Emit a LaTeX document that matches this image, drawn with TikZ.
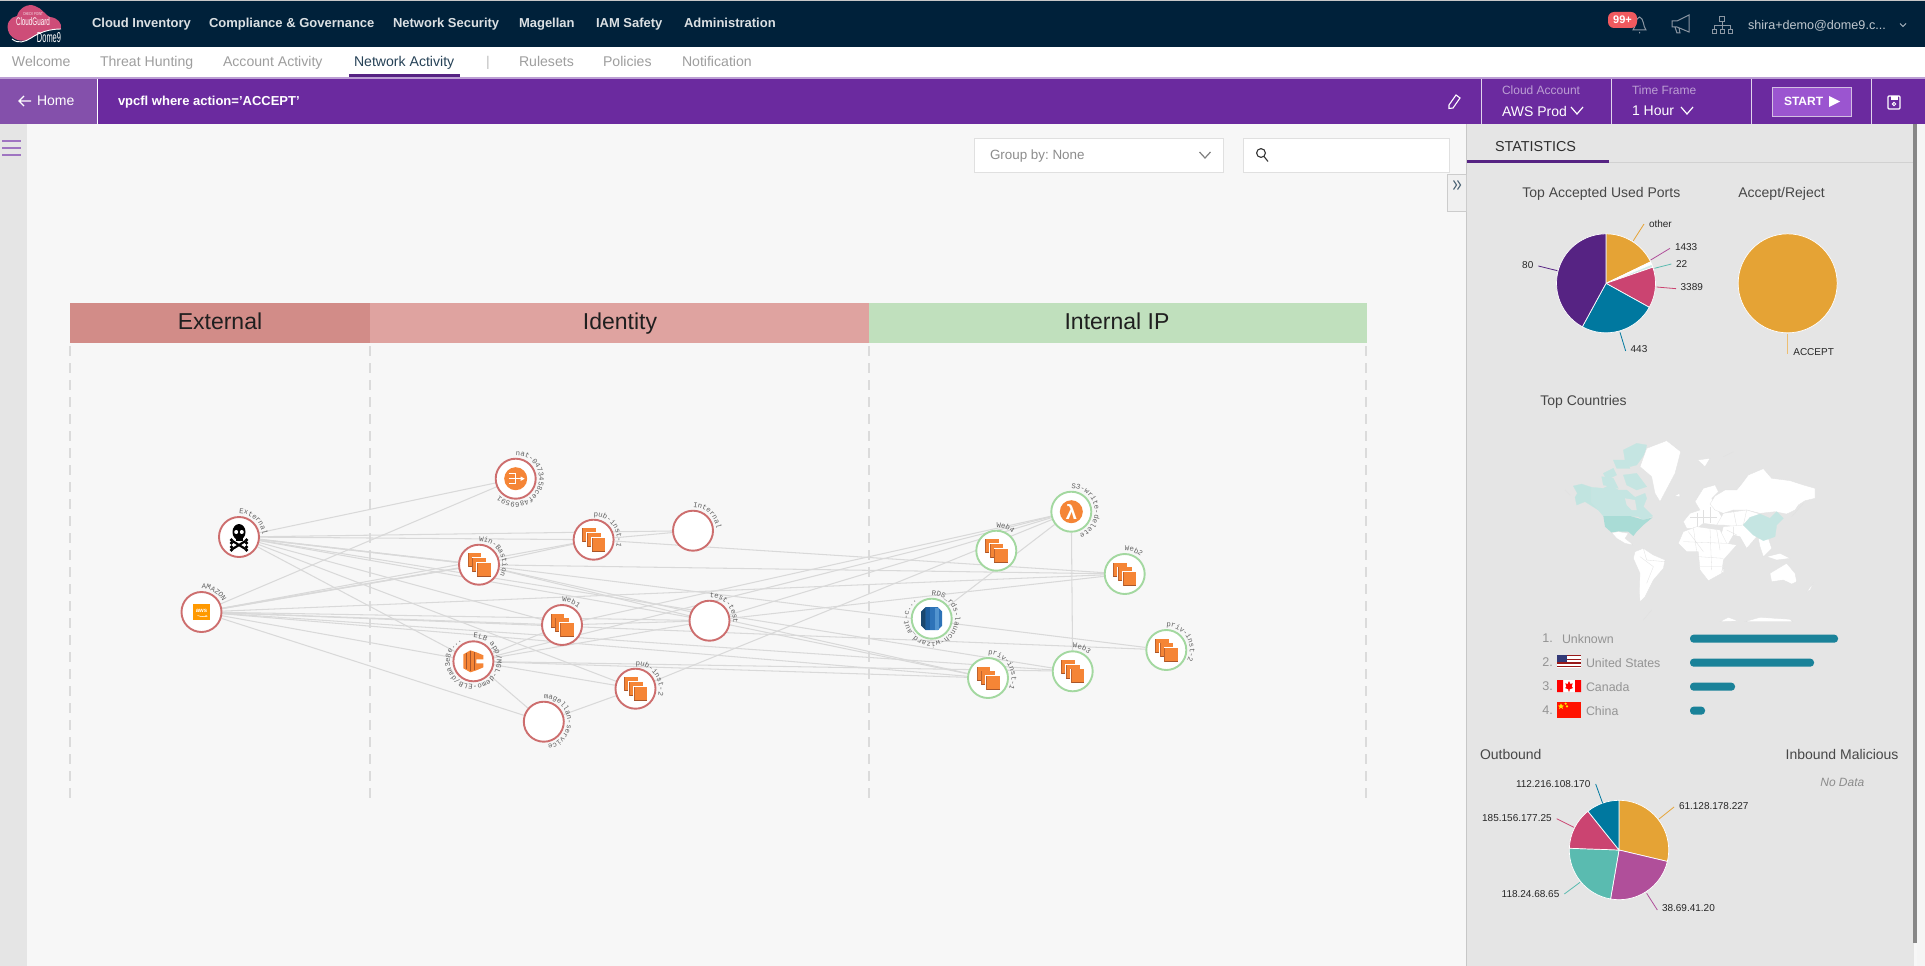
\documentclass[tikz,border=0pt]{standalone}
\usepackage{graphicx}
\usepackage{fontspec}
\setmainfont{Liberation Sans}
\newfontfamily\lblmono{Liberation Mono}
\usetikzlibrary{decorations.text}
\pgfdeclarelayer{chrome}\pgfdeclarelayer{links}
\pgfsetlayers{chrome,links,main}
\definecolor{navy}{HTML}{00213A}
\definecolor{barpurple}{HTML}{6B2A9F}
\definecolor{homepurple}{HTML}{8450AB}
\definecolor{canvasbg}{HTML}{F7F7F7}
\definecolor{panelbg}{HTML}{E5E5E5}
\definecolor{linkgray}{HTML}{D9D9D9}
\definecolor{redring}{HTML}{CD6E6E}
\definecolor{greenring}{HTML}{A3D8A0}
\definecolor{awsorange}{HTML}{F58536}
\definecolor{awsdark}{HTML}{A8552A}
\definecolor{awsyellow}{HTML}{FF9900}
\definecolor{pieorange}{HTML}{E5A335}
\definecolor{piepink}{HTML}{CB4471}
\definecolor{pieblue}{HTML}{00789F}
\definecolor{piepurple}{HTML}{562383}
\definecolor{piemag}{HTML}{B04F9A}
\definecolor{pieteal}{HTML}{5ABBB0}
\definecolor{barteal}{HTML}{1A8299}
\definecolor{mapteal}{HTML}{C5E5E2}
\definecolor{mapus}{HTML}{A9DCD6}
\definecolor{hdrext}{HTML}{D28C88}
\definecolor{hdrid}{HTML}{DFA3A0}
\definecolor{hdrint}{HTML}{C0E0BD}
\definecolor{startbtn}{HTML}{9B55D0}
\definecolor{badgered}{HTML}{F05A5F}
\definecolor{iconline}{HTML}{8C97A3}
\definecolor{rdsa}{HTML}{1A476F}
\definecolor{rdsb}{HTML}{1F5F9F}
\definecolor{rdsc}{HTML}{2E73B8}
\definecolor{rdsd}{HTML}{5294CF}
\newcommand\fsz[1]{\fontsize{#1}{#1}\selectfont}
\frenchspacing
\tikzset{
 flat/.style={text depth=0pt,execute at begin node={\vphantom{A}}},
 txt/.style={inner sep=0pt,outer sep=0pt,anchor=west,flat},
 navitem/.style={txt,text=white!86!navy,font=\fsz{13}\bfseries},
 subitem/.style={txt,text=black!38,font=\fsz{14.1}},
 ctitle/.style={txt,text=black!72,font=\fsz{14}},
 plabel/.style={txt,text=black!85,font=\fsz{10}},
 plabelr/.style={plabel,anchor=east},
 ctry/.style={txt,text=black!42,font=\fsz{12.4}},
 hdr/.style={inner sep=0pt,flat,text=black!88,font=\fsz{23}},
 netnode/.style={circle,minimum size=40pt,inner sep=0pt,fill=white,line width=1.9pt},
 rednode/.style={netnode,draw=redring},
 greennode/.style={netnode,draw=greenring},
 link/.style={draw=linkgray,line width=1.05pt},
 dashline/.style={draw=black!14,line width=1.3pt,dash pattern=on 10pt off 7pt},
 icongray/.style={draw=iconline,line width=1pt},
 land/.style={fill=white,draw=black!12,line width=.25pt},
 maphi/.style={fill=mapteal,draw=mapteal,line width=.25pt},
 borderline/.style={draw=black!12,line width=.3pt},
 leader/.style={line width=.8pt},
 stackicon/.pic={
  \foreach \d in {-11.3,-6.6,-1.9}{
   \fill[white] (\d-.8,\d-.8) rectangle ++(15,15.6);
   \fill[awsorange] (\d,\d) rectangle ++(13.6,13.6);
   \fill[awsdark] (\d,\d+13) rectangle ++(13.6,1);
   \fill[awsdark!70!awsorange] (\d,\d) rectangle ++(.8,13.6);
  }
 },
}
\newcommand\arclabel[2]{\path[decorate,decoration={text along path,text align=left,
  text={|\lblmono\fsz{7.3}\color{black!62}|#2}}]
  (#1.center) ++(0pt,23.5pt) arc[start angle=90,end angle=-268,radius=23.5pt];}
\newcommand\slice[5]{\fill[#5,draw=white,line width=.7pt] (#1) -- ++(#3:#2) arc[start angle=#3,end angle=#4,radius=#2] -- cycle;}
\begin{document}
\begin{tikzpicture}[x=1pt,y=-1pt]
\useasboundingbox (0,0) rectangle (1925,966);
\begin{pgfonlayer}{chrome}
\fill[canvasbg] (0,0) rectangle (1925,966);
\fill[navy] (0,1) rectangle (1925,47);
\fill[black!22] (0,0) rectangle (1925,1);
\fill[white] (0,47) rectangle (1925,78);
\fill[barpurple!45!white] (0,77) rectangle (1925,79);
\fill[barpurple] (0,79) rectangle (1925,124);
\fill[homepurple] (0,79) rectangle (97,124);
\draw[white,line width=.7pt] (97.5,79) -- (97.5,124);
\foreach \sx in {1481,1611,1751,1871} \draw[white!80!barpurple,line width=.7pt] (\sx,79) -- (\sx,124);
\fill[black!10] (0,124) rectangle (27,966);
\fill[panelbg] (1466,124) rectangle (1914,966);
\draw[black!22,line width=.7pt] (1466.5,124) -- (1466.5,966);
\fill[black!47] (1913,124) rectangle (1917,943);
\fill[black!4] (1917,124) rectangle (1925,966);
\draw[black!18,line width=.8pt] (1467,162) -- (1913,162);
\fill[piepurple] (1467,160) rectangle (1609,162.5);
\fill[white,draw=black!12,line width=.8pt] (974,138) rectangle (1223.5,172);
\fill[white,draw=black!12,line width=.8pt] (1243,138) rectangle (1449,172);
\draw[black!50,line width=1.2pt] (1199.5,152) -- (1205,158) -- (1210.5,152);
\draw[black!80,line width=1.1pt] (1261,153) circle (4.4pt) (1264,156.5) -- (1268,161.5);
\fill[black!6,draw=black!20,line width=.6pt] (1447,174) rectangle (1466,211);
\draw[navy!70!white,line width=1.1pt] (1453.5,180.5) -- (1456.5,185) -- (1453.5,189.5) (1457.5,180.5) -- (1460.5,185) -- (1457.5,189.5);
\foreach \hy in {141,148,155} \fill[barpurple!65!white] (2,\hy-1.4) rectangle (21,\hy+1.4);
\fill[piepurple] (349,74) rectangle (460,77);
\fill[hdrext] (70,303) rectangle (370,342.5);
\fill[hdrid] (370,303) rectangle (869,342.5);
\fill[hdrint] (869,303) rectangle (1366.5,342.5);
\foreach \lx in {70,370,869,1366} \draw[dashline] (\lx,346) -- (\lx,802);
\end{pgfonlayer}
% logo
\fill[piepink!95!white] (9,33) .. controls (5,24) and (10,17) .. (17,16) .. controls (19,8) and (28,3) .. (35,6) .. controls (42,8) and (46,16) .. (50,17) .. controls (58,18) and (62,23) .. (61,29) .. controls (48,29) and (38,33) .. (30,39) .. controls (22,43) and (13,40) .. (9,33) -- cycle;
\draw[white,line width=.9pt] (12,39) .. controls (18,44) and (25,42) .. (31,38) .. controls (40,32) and (50,29) .. (61,29);
\node[inner sep=0pt,text=white!85!piepink] (logocp) at (33,14) {\resizebox{20pt}{3pt}{CHECK POINT}};
\node[inner sep=0pt,text=white] (logocg) at (33,21.5) {\resizebox{34pt}{8pt}{CloudGuard}};
\node[inner sep=0pt,text=white] (logodome) at (49,38) {\resizebox{24pt}{10pt}{Dome9}};
% top nav
\node[navitem] (n1) at (92,23) {Cloud Inventory};
\node[navitem] (n2) at (209,23) {Compliance \& Governance};
\node[navitem] (n3) at (393,23) {Network Security};
\node[navitem] (n4) at (519,23) {Magellan};
\node[navitem] (n5) at (596,23) {IAM Safety};
\node[navitem] (n6) at (684,23) {Administration};
\node[subitem] (s1) at (12,61.5) {Welcome};
\node[subitem] (s2) at (100,61.5) {Threat Hunting};
\node[subitem] (s3) at (223,61.5) {Account Activity};
\node[subitem,text=navy!85!white] (s4) at (354,61.5) {Network Activity};
\node[subitem,text=black!25] (s5) at (486,61.5) {|};
\node[subitem] (s6) at (519,61.5) {Rulesets};
\node[subitem] (s7) at (603,61.5) {Policies};
\node[subitem] (s8) at (682,61.5) {Notification};
% right top icons
\draw[icongray] (1633,30) .. controls (1636,27) and (1635,18) .. (1639.5,17) .. controls (1644,18) and (1643,27) .. (1646,30) -- cycle (1639.5,32) -- (1639.5,33.5);
\fill[badgered,rounded corners=6pt] (1608,12) rectangle (1637,28);
\node[inner sep=0pt,text=white,font=\fsz{11}\bfseries] (badge) at (1622.5,20) {99+};
\draw[icongray] (1672,21) -- (1677,21) -- (1689,15) -- (1689,32) -- (1677,27) -- (1672,27) -- cycle (1675,27) -- (1677,33) -- (1680,33) -- (1679,28);
\draw[icongray] (1719.5,17) rectangle (1724.5,22) (1722,22) -- (1722,30) (1714,30) -- (1714,26) -- (1730,26) -- (1730,30)
  (1712,30) rectangle (1716,34) (1720,30) rectangle (1724,34) (1728,30) rectangle (1732,34);
\node[txt,text=white!75!navy,font=\fsz{12.6}] (user) at (1748,25) {shira+demo@dome9.c...};
\draw[white!70!navy,line width=.8pt] (1900,23.5) -- (1903,26.5) -- (1906,23.5);
% purple bar
\draw[white,line width=1.3pt] (31,101) -- (19,101) (24,96) -- (19,101) -- (24,106);
\node[txt,text=white,font=\fsz{14}] (home) at (37,101) {Home};
\node[txt,text=white,font=\fsz{13}\bfseries] (query) at (118,101) {vpcfl where action='ACCEPT'};
\draw[white,line width=1.1pt] (1449,108.5) -- (1449,105) -- (1456,95) -- (1460,98) -- (1453,108) -- cycle;
\node[txt,text=barpurple!45!white,font=\fsz{12}] (ca) at (1502,90) {Cloud Account};
\node[txt,text=white,font=\fsz{14}] (awsp) at (1502,111) {AWS Prod};
\draw[white,line width=1.2pt] (1571,107) -- (1577,114) -- (1583,107);
\node[txt,text=barpurple!45!white,font=\fsz{12}] (tf) at (1632,90) {Time Frame};
\node[txt,text=white,font=\fsz{14}] (hour) at (1632,111) {1 Hour};
\draw[white,line width=1.2pt] (1681,107) -- (1687,114) -- (1693,107);
\fill[startbtn,draw=white!70!barpurple,line width=.8pt] (1772,87) rectangle (1851,116);
\node[txt,text=white,font=\fsz{12}\bfseries] (start) at (1784,101.5) {START};
\fill[white] (1829,96) -- (1840,101.5) -- (1829,107) -- cycle;
\draw[white,line width=1.2pt,rounded corners=1pt] (1888,96) rectangle (1900,109);
\fill[white] (1890.5,96) rectangle (1897.5,100);
\draw[white,line width=1pt] (1894,104) circle (1.7pt);
\node[txt,text=black!45,font=\fsz{13.4}] (groupby) at (990,154.5) {Group by: None};
\node[txt,text=black!82,font=\fsz{14.4}] (stat) at (1495,146.5) {STATISTICS};
% heads
\node[hdr] (hExternal) at (220,321) {External};
\node[hdr] (hIdentity) at (620,321) {Identity};
\node[hdr] (hInternal) at (1117,321) {Internal IP};
% network nodes
\node[rednode] (External) at (239,537) {};
\node[rednode] (Amazon) at (201.5,612) {};
\node[rednode] (Nat) at (515.7,478.7) {};
\node[rednode] (Pub1) at (593.6,539.7) {};
\node[rednode] (Internal) at (693,530.7) {};
\node[rednode] (Win) at (479,564.7) {};
\node[rednode] (Web1) at (562,625) {};
\node[rednode] (Test) at (709.5,620.7) {};
\node[rednode] (Elb) at (473.4,661.3) {};
\node[rednode] (Pub2) at (635.5,688.7) {};
\node[rednode] (Magellan) at (543.8,721.7) {};
\node[greennode] (Sthree) at (1071.3,511.7) {};
\node[greennode] (Web4) at (996.3,550.7) {};
\node[greennode] (Web2) at (1124.7,574) {};
\node[greennode] (Rds) at (931.7,618.7) {};
\node[greennode] (Priv2) at (1166.3,650) {};
\node[greennode] (Web3) at (1072.7,671.3) {};
\node[greennode] (Priv1) at (988,678) {};
\begin{pgfonlayer}{links}
\foreach \t in {Nat,Pub1,Internal,Win,Web1,Test,Pub2,Elb,Web3}
  \draw[link] (External) -- (\t);
\foreach \t in {Nat,Win,Pub1,Web1,Test,Elb,Magellan,Priv1,Web3,Priv2,Web2}
  \draw[link] (Amazon) -- (\t);
\foreach \t in {Pub1,Test,Web2,Priv1,Priv2} \draw[link] (Win) -- (\t);
\foreach \t in {Internal,Web2} \draw[link] (Pub1) -- (\t);
\foreach \t in {Sthree,Elb,Test} \draw[link] (Web1) -- (\t);
\foreach \t in {Test,Pub2,Magellan,Priv1,Web3,Sthree} \draw[link] (Elb) -- (\t);
\foreach \t in {Magellan,Sthree} \draw[link] (Pub2) -- (\t);
\foreach \t in {Sthree,Web2,Priv1} \draw[link] (Test) -- (\t);
\draw[link] (Rds) -- (Sthree);
\draw[link] (Sthree) -- (Web3);
\draw[link,line width=1.5pt] (Amazon) -- (Win);
\draw[link,line width=1.5pt] (External) -- (Win);
\end{pgfonlayer}
% arc labels
\arclabel{External}{External}
\arclabel{Amazon}{AMAZON}
\arclabel{Nat}{nat-0473458cef4869591}
\arclabel{Pub1}{pub-inst-1}
\arclabel{Internal}{Internal}
\arclabel{Win}{Win-Bastion}
\arclabel{Web1}{Web1}
\arclabel{Test}{test-test}
\arclabel{Elb}{ELB app/MGL-demo-ELB/daa3e8e...}
\arclabel{Pub2}{pub-inst-2}
\arclabel{Magellan}{magellan-service}
\arclabel{Sthree}{S3-write-delete}
\arclabel{Web4}{Web4}
\arclabel{Web2}{Web2}
\arclabel{Rds}{RDS{\_}rds-launch-wizard{\_}aut-c...}
\arclabel{Priv2}{priv-inst-2}
\arclabel{Web3}{Web3}
\arclabel{Priv1}{priv-inst-1}
% stack icons
\foreach \n in {Pub1,Win,Web1,Pub2,Web4,Web2,Web3,Priv1,Priv2} \pic at (\n) {stackicon};
% skull
\begin{scope}[shift={(External.center)}]
 \fill[black] (0,-5) ellipse (6.5pt and 8pt);
 \fill[black] (-3.5,-1) rectangle (3.5,3.5);
 \fill[white] (-2.8,-5) circle (2pt) (2.8,-5) circle (2pt);
 \draw[black,line width=2.2pt] (-6.5,4) -- (6.5,12) (6.5,4) -- (-6.5,12);
 \fill[black] (-7.5,3) circle (1.8pt) (-7.5,6) circle (1.8pt) (7.5,3) circle (1.8pt) (7.5,6) circle (1.8pt)
   (-7.5,10) circle (1.8pt) (-7.5,13) circle (1.8pt) (7.5,10) circle (1.8pt) (7.5,13) circle (1.8pt);
\end{scope}
% aws square
\fill[awsyellow] ([shift={(-8.3,-8.3)}]Amazon.center) rectangle ([shift={(8.3,8.3)}]Amazon.center);
\node[inner sep=0pt,text=white,font=\fsz{6}\bfseries] (awstxt) at ([shift={(0,-1)}]Amazon.center) {aws};
\draw[white,line width=.5pt] ([shift={(-4,3.5)}]Amazon.center) .. controls +(2,1.5) and +(6,1.5) .. +(8,0);
% nat
\fill[awsorange] (Nat) circle (11.5pt);
\draw[white,line width=.8pt] ([shift={(-7,-5)}]Nat.center) -- +(7,0) -- +(7,10) -- +(0,10) ([shift={(-7,0)}]Nat.center) -- +(13,0);
\fill[white] ([shift={(9,0)}]Nat.center) -- +(-4,-2.2) -- +(-4,2.2) -- cycle;
% lambda
\fill[awsorange] (Sthree) circle (11.5pt);
\node[inner sep=0pt,text=white,font=\fsz{20}\bfseries] (lam) at (Sthree.center) {λ};
% elb
\begin{scope}[shift={(Elb.center)}]
 \fill[awsorange] (-10,-7) -- (-3,-11) -- (3,-9) -- (10,-6) -- (10,-2) -- (3,-2) -- (3,2) -- (10,2) -- (10,6) -- (3,9) -- (-3,11) -- (-10,7) -- cycle;
 \draw[awsdark,line width=.8pt] (-7,-8) -- (-7,8) (-3,-10) -- (-3,10) (1,-9) -- (1,9);
\end{scope}
% rds
\begin{scope}[shift={(Rds.center)}]
 \fill[rdsc] (-10.5,-7) -- (-6,-11.5) -- (6,-11.5) -- (10.5,-7) -- (10.5,7) -- (6,11.5) -- (-6,11.5) -- (-10.5,7) -- cycle;
 \fill[rdsa] (-10.5,-7) -- (-6,-11.5) -- (-6,11.5) -- (-10.5,7) -- cycle;
 \fill[rdsb] (-6,-11.5) rectangle (-2,11.5);
 \fill[rdsd] (3,-11) rectangle (7,11);
\end{scope}
% -------- statistics panel, top
\begin{scope}[shift={(1470,170)},x=0.33333pt,y=-0.33333pt]
 \node[ctitle] (tPorts) at (157,66) {Top Accepted Used Ports};
 \node[ctitle] (tAccept) at (805,66) {Accept/Reject};
 \node[ctitle] (tCountries) at (211,690) {Top Countries};
 \coordinate (pa) at (408,340);
 \slice{pa}{49.5pt}{90}{25.7}{pieorange}
 \slice{pa}{49.5pt}{25.7}{22.5}{white}
 \slice{pa}{49.5pt}{22.5}{19}{pieteal!30!white}
 \slice{pa}{49.5pt}{19}{-29}{piepink}
 \slice{pa}{49.5pt}{-29}{-118.6}{pieblue}
 \slice{pa}{49.5pt}{-118.6}{-270}{piepurple}
 \draw[leader,pieorange] (490,212) -- (522,162);
 \draw[leader,piemag] (542,270) -- (600,235);
 \draw[leader,pieteal] (553,295) -- (604,282);
 \draw[leader,piepink] (560,351) -- (618,356);
 \draw[leader,pieblue] (450,487) -- (467,543);
 \draw[leader,piepurple] (262,302) -- (205,288);
 \node[plabel] (lOther) at (537,161) {other};
 \node[plabel] (l1433) at (615,232) {1433};
 \node[plabel] (l22) at (618,281) {22};
 \node[plabel] (l3389) at (632,352) {3389};
 \node[plabel] (l443) at (482,538) {443};
 \node[plabelr] (l80) at (190,286) {80};
 \fill[pieorange,draw=white,line width=.7pt] (953,340) circle (49.5pt);
 \draw[line width=1.2pt,pieorange!70!white] (953,492) -- (953,552);
 \node[plabel] (lAccept) at (970,547) {ACCEPT};
\end{scope}
% -------- map and country list
\begin{scope}[shift={(1470,410)},x=0.33333pt,y=-0.33333pt]
 \fill[maphi,fill=mapteal!85!mapus] (310,228) -- (335,222) -- (365,232) -- (365,278) -- (385,300) -- (345,275) -- (320,285) -- (315,262) -- (322,250) -- cycle;
 \fill[maphi] (365,232) -- (400,235) -- (420,225) -- (445,240) -- (470,240) -- (495,262) -- (525,250) -- (530,265) -- (520,290) -- (548,318) -- (520,330) -- (505,320) -- (480,318) -- (400,318) -- (385,300) -- (365,278) -- cycle;
 \fill[panelbg] (465,265) -- (495,270) -- (500,300) -- (485,300) -- (470,285) -- cycle;
 \fill[maphi] (400,190) -- (430,175) -- (440,195) -- (410,210) -- cycle;
 \fill[maphi] (430,150) -- (470,150) -- (480,175) -- (440,175) -- cycle;
 \fill[maphi] (460,120) -- (500,100) -- (530,105) -- (525,130) -- (500,165) -- (480,170) -- (465,150) -- cycle;
 \fill[maphi] (395,200) -- (430,205) -- (445,235) -- (400,225) -- cycle;
 \fill[maphi] (460,195) -- (500,190) -- (530,230) -- (500,240) -- (470,225) -- cycle;
 \fill[mapus] (400,318) -- (480,318) -- (505,325) -- (520,330) -- (548,322) -- (520,345) -- (500,365) -- (490,378) -- (475,365) -- (445,365) -- (425,368) -- (405,350) -- cycle;
 \filldraw[land] (425,368) -- (445,365) -- (475,370) -- (465,385) -- (490,405) -- (465,400) -- (440,385) -- cycle;
 \filldraw[land] (510,170) -- (530,115) -- (590,92) -- (632,125) -- (615,190) -- (570,275) -- (555,250) -- (545,200) -- cycle;
 \filldraw[land] (495,425) -- (520,415) -- (550,435) -- (585,450) -- (580,475) -- (550,510) -- (525,560) -- (510,575) -- (508,545) -- (510,490) -- (490,445) -- cycle;
 \draw[borderline] (510,440) -- (550,470) -- (530,520) (520,415) -- (530,450) -- (585,455);
 \filldraw[land] (640,335) -- (660,310) -- (690,300) -- (675,275) -- (700,235) -- (735,225) -- (745,245) -- (725,265) -- (760,330) -- (740,345) -- (700,340) -- (680,355) -- (650,355) -- cycle;
 \draw[borderline] (660,320) -- (740,320) (700,300) -- (700,340) (680,310) -- (680,350) (720,290) -- (720,340);
 \filldraw[land] (720,282) -- (735,258) -- (765,240) -- (800,240) -- (815,222) -- (835,195) -- (880,176) -- (905,205) -- (960,212) -- (1000,225) -- (1035,235) -- (1035,265) -- (1005,272) -- (985,285) -- (975,300) -- (950,312) -- (915,305) -- (870,310) -- (830,300) -- (790,300) -- (760,310) -- (735,300) -- cycle;
 \filldraw[land] (760,310) -- (830,300) -- (870,312) -- (845,325) -- (820,345) -- (800,350) -- (760,345) -- (740,345) -- cycle;
 \draw[borderline] (790,300) -- (800,350) (830,300) -- (820,345);
 \filldraw[land] (760,350) -- (820,345) -- (860,380) -- (830,415) -- (810,380) -- (790,375) -- (770,410) -- (750,385) -- cycle;
 \draw[borderline] (790,350) -- (790,375) (770,360) -- (800,375);
 \filldraw[land] (865,385) -- (895,385) -- (905,415) -- (880,440) -- (870,410) -- cycle;
 \fill[maphi] (820,345) -- (840,322) -- (870,312) -- (900,325) -- (920,305) -- (940,325) -- (920,345) -- (915,380) -- (880,392) -- (850,375) -- cycle;
 \filldraw[land] (640,365) -- (680,350) -- (750,360) -- (770,400) -- (800,405) -- (760,450) -- (755,490) -- (715,512) -- (690,480) -- (685,425) -- (650,425) -- (625,400) -- cycle;
 \draw[borderline] (670,352) -- (680,425) (720,355) -- (725,480) (640,395) -- (770,400) (685,440) -- (760,445) (655,365) -- (700,425) (740,360) -- (750,420) (690,470) -- (755,470);
 \filldraw[land] (900,490) -- (925,475) -- (950,460) -- (975,490) -- (980,515) -- (965,522) -- (940,510) -- (905,515) -- cycle;
 \filldraw[land] (750,635) -- (775,622) -- (805,633) -- cycle;
 \filldraw[land] (825,635) -- (870,622) -- (960,628) -- (968,635) -- cycle;
 \filldraw[land] (615,258) -- (628,250) -- (630,260) -- cycle;
 \filldraw[land] (755,485) -- (762,470) -- (760,490) -- cycle;
 \filldraw[land] (683,150) -- (720,145) -- (705,170) -- cycle;
 \filldraw[land] (890,440) -- (930,430) -- (960,445) -- (920,450) -- cycle;
 \filldraw[land] (1010,545) -- (1030,520) -- (1020,540) -- cycle;
 \draw[borderline] (520,630) -- (545,600) (285,240) -- (300,255) (965,320) -- (1000,280) (760,140) -- (790,125);
 \foreach \r/\ry in {1./684,2./756,3./828,4./900} \node[ctry,font=\fsz{12.6}] (rank\ry) at (217,\ry) {\r};
 \node[ctry] (cUnknown) at (276,686) {Unknown};
 \node[ctry] (cUS) at (348,758) {United States};
 \node[ctry] (cCanada) at (348,830) {Canada};
 \node[ctry] (cChina) at (348,902) {China};
 \foreach \bx/\by in {1104/686,1032/758,795/830,705/902}
  \fill[barteal,rounded corners=3.6pt] (660,\by-12) rectangle (\bx,\by+12);
 \fill[white] (261,735) rectangle (333,775);
 \foreach \sy in {735,746,757,768} \fill[red!55!black!90!white] (261,\sy) rectangle (333,\sy+4);
 \fill[rdsa!60!piepurple] (261,735) rectangle (291,755);
 \fill[white] (261,810) rectangle (333,846);
 \fill[red] (261,810) rectangle (279,846) (315,810) rectangle (333,846);
 \fill[red] (297,813) -- (301,822) -- (308,820) -- (305,830) -- (309,834) -- (299,838) -- (299,844) -- (295,844) -- (295,838) -- (285,834) -- (289,830) -- (286,820) -- (293,822) -- cycle;
 \fill[red!85!orange] (261,876) rectangle (333,925);
 \fill[yellow!85!orange] (273,880) -- (276,886) -- (282,887) -- (277,891) -- (279,897) -- (273,893) -- (267,897) -- (269,891) -- (264,887) -- (270,886) -- cycle;
 \fill[yellow!85!orange] (287,881) circle (1.2pt) (291,889) circle (1.2pt);
\end{scope}
% -------- outbound
\begin{scope}[shift={(1470,730)},x=0.33333pt,y=-0.33333pt]
 \node[ctitle] (tOut) at (30,72) {Outbound};
 \node[ctitle] (tIn) at (947,72) {Inbound Malicious};
 \node[inner sep=0pt,text=black!45,font=\fsz{12}\itshape] (noData) at (1117,158) {No Data};
 \coordinate (pb) at (447,360);
 \slice{pb}{49.7pt}{90}{-13.3}{pieorange}
 \slice{pb}{49.7pt}{-13.3}{-99.8}{piemag}
 \slice{pb}{49.7pt}{-99.8}{-182}{pieteal}
 \slice{pb}{49.7pt}{178}{128.7}{piepink}
 \slice{pb}{49.7pt}{128.7}{90}{pieblue}
 \draw[leader,pieorange] (567,267) -- (612,231);
 \draw[leader,piemag] (530,490) -- (562,540);
 \draw[leader,pieteal] (330,457) -- (283,492);
 \draw[leader,piepink] (312,292) -- (260,266);
 \draw[leader,pieblue] (398,220) -- (377,162);
 \node[plabel] (l61) at (627,229) {61.128.178.227};
 \node[plabel] (l38) at (576,535) {38.69.41.20};
 \node[plabelr] (l118) at (268,491) {118.24.68.65};
 \node[plabelr] (l185) at (245,265) {185.156.177.25};
 \node[plabelr] (l112) at (361,161) {112.216.108.170};
\end{scope}
\end{tikzpicture}
\end{document}
